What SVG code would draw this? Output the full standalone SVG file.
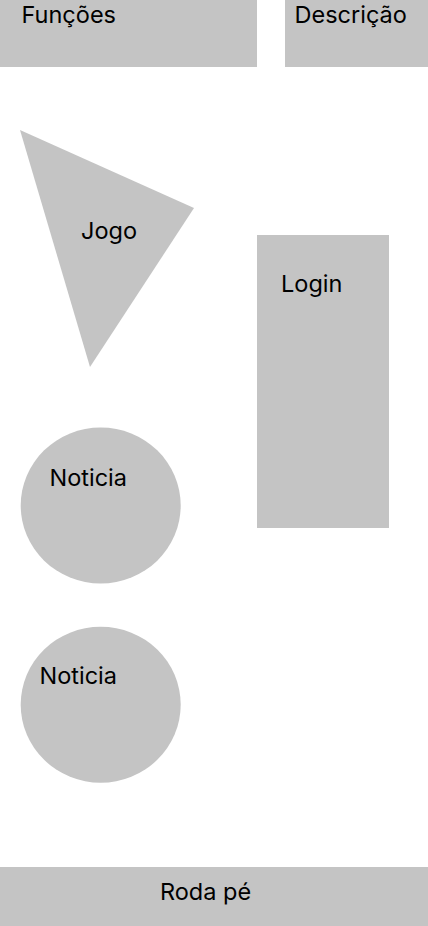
<svg xmlns="http://www.w3.org/2000/svg" width="428" height="926" viewBox="0 0 428 926">
<style>
.s{fill:#c4c4c4}
.t{font-family:Inter,"Liberation Sans",sans-serif;font-size:23.5px;fill:#000}
</style>
<rect width="428" height="926" fill="#fff"/>
<g id="funcoes"><rect class="s" x="0" y="0" width="257" height="67"/><text class="t" x="21.5" y="23">Funções</text></g>
<g id="descricao"><rect class="s" x="285" y="0" width="143" height="67"/><text class="t" x="294.5" y="23">Descrição</text></g>
<g id="jogo"><polygon class="s" points="20,130 194,208 90,367"/><text class="t" x="81" y="239">Jogo</text></g>
<g id="login"><rect class="s" x="257" y="235" width="132" height="293"/><text class="t" x="281" y="292">Login</text></g>
<g id="noticia1"><ellipse class="s" cx="100.7" cy="505.5" rx="80" ry="78"/><text class="t" x="49.5" y="486">Noticia</text></g>
<g id="noticia2"><ellipse class="s" cx="100.7" cy="704.7" rx="80" ry="78"/><text class="t" x="39.5" y="684">Noticia</text></g>
<g id="rodape"><rect class="s" x="0" y="867" width="428" height="59"/><text class="t" x="160" y="900">Roda pé</text></g>
<g id="connectors"/>
</svg>
